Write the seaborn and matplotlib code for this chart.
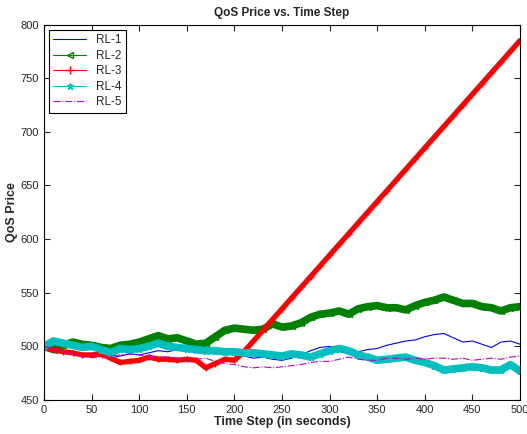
import numpy as np
import pandas as pd
import seaborn as sns
import matplotlib.pyplot as plt
from matplotlib.lines import Line2D

# zaman adimlari (10 saniyede bir okunan degerler)
time_step = list(range(0, 501, 10))

rl1 = [500, 498, 496, 494, 492, 490, 491, 489, 491, 493,
       492, 494, 496, 495, 497, 496, 498, 495, 493, 494,
       492, 491, 489, 490, 488, 487, 489, 492, 496, 499,
       500, 498, 496, 495, 497, 498, 501, 503, 505, 506,
       509, 511, 512, 508, 504, 505, 502, 499, 504, 505, 502]

rl2 = [500, 497, 501, 504, 502, 501, 499, 498, 501, 502,
       504, 507, 510, 507, 508, 505, 502, 503, 509, 515,
       517, 516, 515, 516, 521, 518, 519, 522, 527, 530,
       531, 533, 530, 535, 537, 538, 536, 536, 534, 538,
       541, 543, 546, 543, 540, 540, 537, 536, 533, 536, 537]

rl3 = [499, 497, 495, 494, 492, 492, 493, 489, 485, 486,
       487, 490, 488, 488, 487, 488, 487, 480, 484, 488,
       487, 495, 505, 515, 525, 535, 545, 555, 565, 575,
       585, 595, 605, 615, 625, 635, 645, 655, 665, 675,
       685, 695, 705, 715, 725, 735, 745, 755, 765, 775, 785]

rl4 = [500, 505, 503, 501, 499, 500, 497, 494, 498, 497,
       498, 500, 503, 500, 499, 498, 497, 496, 496, 495,
       495, 494, 494, 493, 492, 491, 493, 492, 490, 493,
       496, 498, 496, 492, 490, 487, 488, 489, 490, 487,
       485, 482, 478, 479, 480, 481, 480, 478, 478, 483, 477]

rl5 = [500, 498, 495, 493, 491, 490, 489, 491, 492, 493,
       492, 491, 490, 490, 489, 487, 488, 489, 486, 484,
       483, 481, 480, 481, 480, 481, 482, 483, 485, 486,
       486, 488, 490, 488, 487, 487, 489, 489, 488, 489,
       488, 489, 489, 488, 489, 487, 488, 489, 488, 490, 491]

names = ["RL-1", "RL-2", "RL-3", "RL-4", "RL-5"]
colors = ["#0000ff", "#008000", "#ff0000", "#00bfbf", "#bf00bf"]

df = pd.DataFrame({"t": time_step, "RL-1": rl1, "RL-2": rl2,
                   "RL-3": rl3, "RL-4": rl4, "RL-5": rl5})

sns.set_style("ticks", {"xtick.direction": "in", "ytick.direction": "in"})
plt.rcParams["font.family"] = ["Liberation Sans", "DejaVu Sans"]

fig = plt.figure(figsize=(5.27, 4.34), dpi=100)
ax = fig.add_axes([0.0835, 0.0783, 0.9032, 0.8652])

sns.lineplot(data=df, x="t", y="RL-1", color=colors[0], linewidth=0.8, ax=ax)
sns.lineplot(data=df, x="t", y="RL-2", color=colors[1], linewidth=5.5, ax=ax)
ax.plot(df["t"], df["RL-2"], "<", color=colors[1], ms=5, mfc="none", mew=1)
sns.lineplot(data=df, x="t", y="RL-3", color=colors[2], linewidth=3.8, ax=ax)
ax.plot(df["t"], df["RL-3"], "+", color=colors[2], ms=5, mew=1)
sns.lineplot(data=df, x="t", y="RL-4", color=colors[3], linewidth=5.5, ax=ax)
ax.plot(df["t"], df["RL-4"], "*", color=colors[3], ms=5)
sns.lineplot(data=df, x="t", y="RL-5", color=colors[4], linewidth=0.8,
             linestyle="-.", ax=ax)

ax.set_xlim(0, 500)
ax.set_ylim(450, 800)
ax.set_xticks(range(0, 501, 50))
ax.set_yticks(range(450, 801, 50))
ax.tick_params(top=True, right=True, labelsize=8, length=4, width=0.8)
for s in ax.spines.values():
    s.set_linewidth(0.8)
    s.set_color("black")

ax.set_title("QoS Price vs. Time Step", fontsize=8.5, fontweight="bold", pad=6)
ax.set_xlabel("Time Step (in seconds)", fontsize=9, fontweight="bold", labelpad=1)
ax.set_ylabel("QoS Price", fontsize=9, fontweight="bold", labelpad=2)

handles = [
    Line2D([], [], color=colors[0], lw=0.8),
    Line2D([], [], color=colors[1], lw=0.8, marker="<", mfc="none", ms=5),
    Line2D([], [], color=colors[2], lw=0.8, marker="+", ms=6),
    Line2D([], [], color=colors[3], lw=0.8, marker="*", ms=5),
    Line2D([], [], color=colors[4], lw=0.8, linestyle="-."),
]
leg = ax.legend(handles, names, loc="upper left", fontsize=8.5, frameon=True,
                fancybox=False, edgecolor="black", framealpha=1,
                handlelength=2.8, labelspacing=0.3, borderpad=0.35,
                handletextpad=0.8, borderaxespad=0,
                bbox_to_anchor=(0.011, 0.985))
leg.get_frame().set_linewidth(0.8)

fig.savefig("out.png", dpi=100)
